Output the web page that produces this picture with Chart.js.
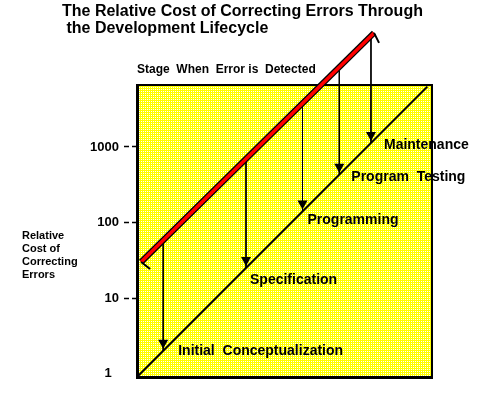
<!DOCTYPE html>
<html>
<head>
<meta charset="utf-8">
<title>The Relative Cost of Correcting Errors</title>
<script src="https://cdn.jsdelivr.net/npm/chart.js@4.4.0/dist/chart.umd.min.js"></script>
<style>
  html, body { margin: 0; padding: 0; background: #fff; }
  #wrap { position: relative; width: 495px; height: 393px; font-family: "Liberation Sans", Arial, sans-serif; color: #000; }
  #wrap canvas { position: absolute; left: 0; top: 0; }
  .txt { position: absolute; font-weight: bold; white-space: pre; }
  #title { left: 62px; top: 3px; font-size: 16px; line-height: 16.8px; }
  #stage-title { left: 137px; top: 63px; font-size: 12px; line-height: 12px; }
  #y-title { left: 22px; top: 229px; font-size: 11px; line-height: 13px; }
</style>
</head>
<body>
<div id="wrap">
  <canvas id="chart" width="495" height="393"></canvas>
  <div class="txt" id="title">The Relative Cost of Correcting Errors Through
 the Development Lifecycle</div>
  <div class="txt" id="stage-title">Stage  When  Error is  Detected</div>
  <div class="txt" id="y-title">Relative
Cost of
Correcting
Errors</div>
</div>
<script>
// stages, in the order they sit on the diagonal
const stages = ['Initial  Conceptualization', 'Specification', 'Programming', 'Program  Testing', 'Maintenance'];
// relative cost when the error is caught in its own stage (black diagonal)
const stageCost = [2, 25, 140, 430, 1130];
// relative cost at the top of each arrow (on the red line)
const lateCost = [56, 670, 3600, 10200, 30500];
const yTicks = [1, 10, 100, 1000];
// end points of the two diagonals
const baseLineX = [0.9, 6300];
const baseLineY = [0.9, 6300];
const redLineX = [1.02, 1240];
const redLineY = [30, 32400];

// layout / style
const axisMin = 0.9;
const xMax = 7265;
const yMax = 40000;
const boxTop = 6640;
const labelOffsets = [[15, 4], [4, 16], [5, 13], [12, 6], [13, 6]];
const FONT = '"Liberation Sans", Arial, sans-serif';

function makeYellow() {
    const c = document.createElement('canvas');
    c.width = 2; c.height = 2;
    const g = c.getContext('2d');
    g.fillStyle = '#ffff00';
    g.fillRect(0, 0, 2, 2);
    g.fillStyle = '#ffffff';
    g.fillRect(1, 1, 1, 1);
    return g.createPattern(c, 'repeat');
}

const toPts = (xs, ys) => xs.map((x, i) => ({ x: x, y: ys[i] }));

const framePlugin = {
    id: 'frame',
    beforeDatasetsDraw(chart) {
        const { ctx, chartArea: a, scales: { y } } = chart;
        const top = Math.round(y.getPixelForValue(boxTop));
        ctx.save();
        ctx.fillStyle = makeYellow();
        ctx.fillRect(a.left, top, a.right - a.left, a.bottom - top);
        ctx.strokeStyle = '#000';
        ctx.lineWidth = 2;
        ctx.beginPath();
        ctx.moveTo(a.left, top);
        ctx.lineTo(a.right, top);
        ctx.lineTo(a.right, a.bottom);
        ctx.stroke();
        ctx.lineWidth = 3;
        ctx.beginPath();
        ctx.moveTo(a.left + 0.5, top - 1);
        ctx.lineTo(a.left + 0.5, a.bottom + 0.5);
        ctx.lineTo(a.right + 1, a.bottom + 0.5);
        ctx.stroke();
        ctx.restore();
    },
    afterDatasetsDraw(chart) {
        const { ctx, scales: { x, y } } = chart;
        ctx.save();
        // arrow heads
        ctx.fillStyle = '#000';
        stageCost.forEach(v => {
            const px = x.getPixelForValue(v);
            const py = y.getPixelForValue(v) - 2;
            ctx.beginPath();
            ctx.moveTo(px - 5, py - 9);
            ctx.lineTo(px + 5, py - 9);
            ctx.lineTo(px, py);
            ctx.closePath();
            ctx.fill();
        });
        // little barbs on the ends of the red line
        const sx = x.getPixelForValue(redLineX[0]), sy = y.getPixelForValue(redLineY[0]);
        const ex = x.getPixelForValue(redLineX[1]), ey = y.getPixelForValue(redLineY[1]);
        ctx.strokeStyle = '#000';
        ctx.lineWidth = 2;
        ctx.beginPath();
        ctx.moveTo(sx, sy);
        ctx.lineTo(sx + 9, sy + 7);
        ctx.moveTo(ex, ey);
        ctx.lineTo(ex + 5, ey + 10);
        ctx.stroke();
        // stage labels
        ctx.font = 'bold 14px ' + FONT;
        ctx.textAlign = 'left';
        ctx.textBaseline = 'alphabetic';
        stages.forEach((s, i) => {
            const px = x.getPixelForValue(stageCost[i]);
            const py = y.getPixelForValue(stageCost[i]);
            ctx.fillText(s, px + labelOffsets[i][0], py + labelOffsets[i][1]);
        });
        ctx.restore();
    }
};

const lineDefaults = { pointRadius: 0, tension: 0, fill: false, clip: false };

const datasets = [
    Object.assign({ data: toPts(redLineX, redLineY), borderColor: '#ff0000', borderWidth: 3.5, order: 0 }, lineDefaults),
    Object.assign({ data: toPts(redLineX, redLineY), borderColor: '#000', borderWidth: 6, order: 1 }, lineDefaults),
    ...stages.map((s, i) => Object.assign({
        data: [{ x: stageCost[i], y: lateCost[i] }, { x: stageCost[i], y: stageCost[i] }],
        borderColor: '#000', borderWidth: 1, order: 2
    }, lineDefaults)),
    Object.assign({ data: toPts(baseLineX, baseLineY), borderColor: '#000', borderWidth: 2, order: 3 }, lineDefaults)
];

new Chart(document.getElementById('chart'), {
    type: 'line',
    data: { datasets: datasets },
    options: {
        responsive: false,
        animation: false,
        events: [],
        layout: { padding: { left: 0, right: 63, top: 26, bottom: 16 } },
        plugins: { legend: { display: false }, tooltip: { enabled: false } },
        scales: {
            x: { type: 'logarithmic', min: axisMin, max: xMax, display: false },
            y: {
                type: 'logarithmic',
                min: axisMin,
                max: yMax,
                afterBuildTicks: s => { s.ticks = yTicks.map(v => ({ value: v })); },
                afterFit: s => { s.width = 137; },
                border: { display: false },
                grid: {
                    drawOnChartArea: false,
                    drawTicks: true,
                    tickLength: 13,
                    tickBorderDash: [5, 3],
                    tickWidth: 1.5,
                    tickColor: c => (c.tick && c.tick.value === 1) ? 'rgba(0,0,0,0)' : '#000'
                },
                ticks: {
                    color: '#000',
                    padding: 5,
                    font: { family: FONT, size: 13, weight: 'bold' },
                    callback: v => v === 1 ? '1  ' : String(v)
                }
            }
        }
    },
    plugins: [framePlugin]
});
</script>
</body>
</html>
